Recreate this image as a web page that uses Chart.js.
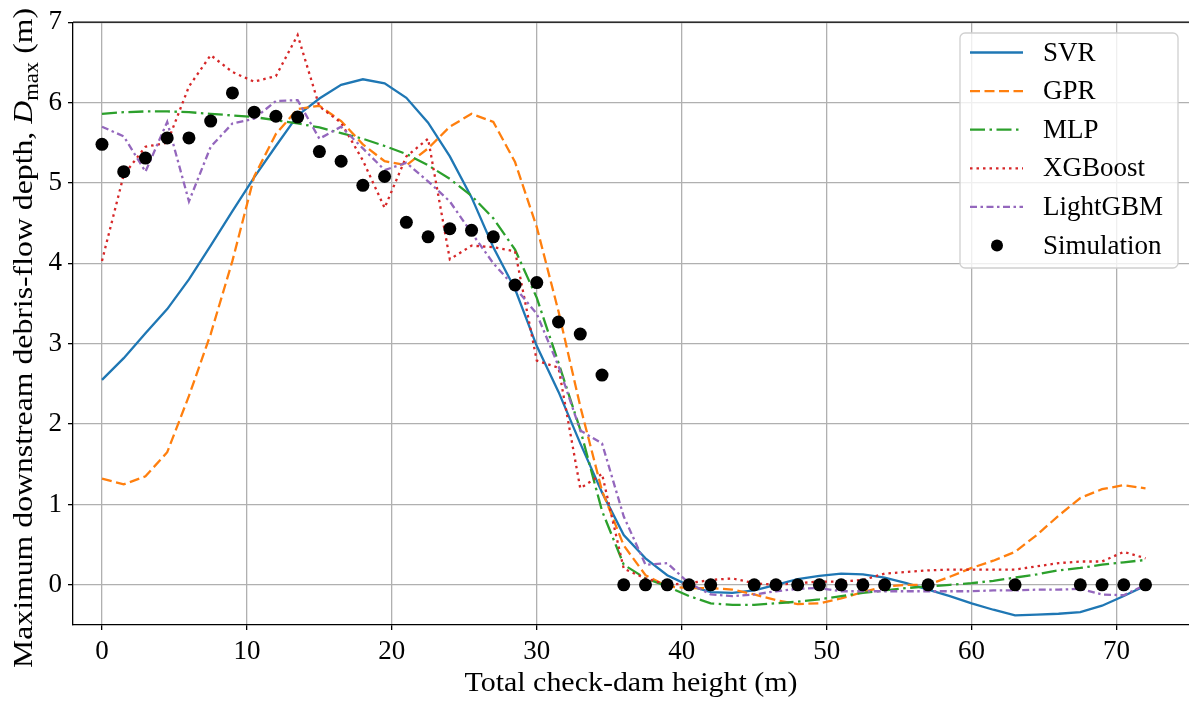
<!DOCTYPE html>
<html>
<head>
<meta charset="utf-8">
<script src="https://cdn.jsdelivr.net/npm/chart.js@4.4.1/dist/chart.umd.min.js"></script>
<style>
	html, body { margin: 0; padding: 0; background: #fff; }
	#wrap { width: 1189px; height: 703px; }
</style>
</head>
<body>
<div id="wrap"><canvas id="depthChart" width="1189" height="703"></canvas></div>
<script>
// check-dam heights where the models were evaluated (m)
const heights = [0, 1.5, 3, 4.5, 6, 7.5, 9, 10.5, 12, 13.5, 15, 16.5, 18, 19.5, 21, 22.5, 24, 25.5,
	27, 28.5, 30, 31.5, 33, 34.5, 36, 37.5, 39, 40.5, 42, 43.5, 45, 46.5, 48, 49.5, 51, 52.5, 54,
	55.5, 57, 58.5, 60, 61.5, 63, 64.5, 66, 67.5, 69, 70.5, 72];

// model predictions of D_max (m)
const svr = [2.55, 2.82, 3.13, 3.43, 3.80, 4.22, 4.65, 5.07, 5.46, 5.84, 6.05, 6.22, 6.29, 6.24,
	6.06, 5.75, 5.33, 4.82, 4.20, 3.68, 2.97, 2.40, 1.76, 1.15, 0.62, 0.33, 0.12, -0.01, -0.09, -0.10,
	-0.07, 0.00, 0.07, 0.11, 0.14, 0.13, 0.09, 0.02, -0.06, -0.14, -0.23, -0.31, -0.38, -0.37, -0.36,
	-0.34, -0.26, -0.14, -0.01];
const gpr = [1.32, 1.25, 1.35, 1.65, 2.35, 3.12, 4.03, 5.08, 5.61, 5.92, 5.96, 5.77, 5.48, 5.27,
	5.22, 5.43, 5.70, 5.86, 5.76, 5.26, 4.45, 3.40, 2.22, 1.17, 0.49, 0.12, -0.02, -0.04, -0.04, -0.06,
	-0.12, -0.19, -0.24, -0.23, -0.17, -0.09, -0.02, 0.00, 0.00, 0.10, 0.21, 0.30, 0.41, 0.62, 0.86,
	1.08, 1.19, 1.24, 1.20];
const mlp = [5.86, 5.88, 5.89, 5.89, 5.88, 5.86, 5.84, 5.82, 5.78, 5.74, 5.69, 5.62, 5.55, 5.46,
	5.36, 5.22, 5.05, 4.84, 4.56, 4.17, 3.57, 2.76, 1.93, 0.92, 0.25, 0.08, -0.02, -0.14, -0.23, -0.25,
	-0.25, -0.23, -0.21, -0.18, -0.14, -0.10, -0.07, -0.04, -0.02, 0.00, 0.02, 0.05, 0.09, 0.13, 0.18,
	0.21, 0.25, 0.28, 0.31];
const xgboost = [4.03, 5.10, 5.45, 5.50, 6.20, 6.59, 6.38, 6.26, 6.33, 6.84, 5.95, 5.75, 5.28, 4.69,
	5.33, 5.55, 4.05, 4.22, 4.20, 4.15, 2.79, 2.70, 1.20, 1.38, 0.20, 0.08, 0.00, 0.02, 0.06, 0.08,
	0.02, 0.00, 0.02, 0.04, 0.04, 0.06, 0.14, 0.16, 0.18, 0.19, 0.19, 0.19, 0.19, 0.23, 0.27, 0.29,
	0.29, 0.41, 0.33];
const lightgbm = [5.70, 5.58, 5.14, 5.76, 4.77, 5.45, 5.74, 5.80, 6.02, 6.03, 5.55, 5.70, 5.43, 5.16,
	5.25, 5.02, 4.77, 4.38, 4.00, 3.70, 3.37, 2.72, 1.92, 1.76, 0.85, 0.25, 0.27, 0.02, -0.12, -0.14,
	-0.12, -0.08, -0.05, -0.04, -0.08, -0.08, -0.08, -0.08, -0.08, -0.08, -0.08, -0.07, -0.07, -0.06,
	-0.06, -0.05, -0.12, -0.13, 0.00];

// simulation results
const simHeights = [0, 1.5, 3, 4.5, 6, 7.5, 9, 10.5, 12, 13.5, 15, 16.5, 18, 19.5, 21, 22.5, 24, 25.5,
	27, 28.5, 30, 31.5, 33, 34.5, 36, 37.5, 39, 40.5, 42, 45, 46.5, 48, 49.5, 51, 52.5, 54, 57, 63,
	67.5, 69, 70.5, 72];
const simDepth = [5.48, 5.14, 5.31, 5.56, 5.56, 5.77, 6.12, 5.88, 5.83, 5.82, 5.39, 5.27, 4.97, 5.08,
	4.51, 4.33, 4.43, 4.41, 4.33, 3.73, 3.76, 3.27, 3.12, 2.61, 0, 0, 0, 0, 0, 0, 0, 0, 0, 0, 0, 0, 0,
	0, 0, 0, 0, 0];

const FONT = "'Liberation Serif', 'DejaVu Serif', serif";
const FS = 27;

const toXY = (xs, ys) => xs.map((x, i) => ({ x: x, y: ys[i] }));

function lineSet(label, values, color, dash, order) {
	return {
		label: label,
		data: toXY(heights, values),
		borderColor: color,
		backgroundColor: color,
		borderWidth: 2.3,
		borderDash: dash,
		pointRadius: 0,
		tension: 0,
		fill: false,
		order: order,
	};
}

const datasets = [
	lineSet("SVR", svr, "#1f77b4", [], 6),
	lineSet("GPR", gpr, "#ff7f0e", [10, 4.5], 5),
	lineSet("MLP", mlp, "#2ca02c", [15, 4.5, 2.5, 4.5], 4),
	lineSet("XGBoost", xgboost, "#d62728", [2.5, 4], 3),
	lineSet("LightGBM", lightgbm, "#9467bd", [7, 3.5, 2.5, 3.5], 2),
	{
		label: "Simulation",
		data: toXY(simHeights, simDepth),
		showLine: false,
		pointRadius: 6.5,
		pointBackgroundColor: "#000",
		pointBorderColor: "#000",
		pointBorderWidth: 0,
		order: 1,
	},
];

// draws text pieces left to right, stretched sideways to a target width
function drawPieces(ctx, parts, targetW) {
	let total = 0;
	parts.forEach(p => { ctx.font = p.f; p.w = ctx.measureText(p.t).width; total += p.w; });
	ctx.scale(targetW / total, 1);
	let cx = -total / 2;
	parts.forEach(p => { ctx.font = p.f; ctx.fillText(p.t, cx, p.dy || 0); cx += p.w; });
}

// axis titles, top spine and an in-plot legend box
const decorations = {
	id: "decorations",
	afterDraw(chart) {
		const ctx = chart.ctx;
		const a = chart.chartArea;
		ctx.save();

		// top spine
		ctx.strokeStyle = "#000";
		ctx.lineWidth = 1.3;
		ctx.beginPath();
		ctx.moveTo(a.left, a.top);
		ctx.lineTo(a.right, a.top);
		ctx.stroke();

		ctx.fillStyle = "#000";
		ctx.textBaseline = "alphabetic";
		ctx.textAlign = "left";

		// x title
		ctx.translate((a.left + a.right) / 2, 691);
		drawPieces(ctx, [{ t: "Total check-dam height (m)", f: FS + "px " + FONT }], 333);
		ctx.setTransform(1, 0, 0, 1, 0, 0);

		// y title with italic D and subscript "max"
		const yf = 28;
		ctx.translate(32, 338);
		ctx.rotate(-Math.PI / 2);
		drawPieces(ctx, [
			{ t: "Maximum downstream debris-flow depth, ", f: yf + "px " + FONT },
			{ t: "D", f: "italic " + yf + "px " + FONT },
			{ t: "max", f: Math.round(yf * 0.72) + "px " + FONT, dy: 6 },
			{ t: " (m)", f: yf + "px " + FONT },
		], 660);
		ctx.setTransform(1, 0, 0, 1, 0, 0);

		// legend
		const box = { x: 960, y: 33, w: 218, h: 235 };
		ctx.fillStyle = "rgba(255,255,255,0.8)";
		ctx.strokeStyle = "#d0d0d0";
		ctx.lineWidth = 1.3;
		ctx.beginPath();
		ctx.roundRect(box.x, box.y, box.w, box.h, 5);
		ctx.fill();
		ctx.stroke();

		ctx.font = FS + "px " + FONT;
		ctx.textBaseline = "middle";
		chart.data.datasets.forEach((ds, i) => {
			const y = 52.5 + i * 38.6;
			if (ds.showLine === false) {
				ctx.fillStyle = ds.pointBackgroundColor;
				ctx.beginPath();
				ctx.arc(997, y, 6, 0, Math.PI * 2);
				ctx.fill();
			} else {
				ctx.strokeStyle = ds.borderColor;
				ctx.lineWidth = ds.borderWidth;
				ctx.setLineDash(ds.borderDash);
				ctx.beginPath();
				ctx.moveTo(970, y);
				ctx.lineTo(1023, y);
				ctx.stroke();
				ctx.setLineDash([]);
			}
			ctx.fillStyle = "#000";
			ctx.fillText(ds.label, 1043, y + 1);
		});

		ctx.restore();
	},
};

new Chart(document.getElementById("depthChart").getContext("2d"), {
	type: "line",
	data: { datasets: datasets },
	options: {
		responsive: false,
		animation: false,
		layout: { autoPadding: false, padding: { top: 19, right: 0, bottom: 0, left: 0 } },
		plugins: {
			legend: { display: false },
			tooltip: { enabled: false },
		},
		scales: {
			x: {
				type: "linear",
				min: -2,
				max: 75,
				afterFit: s => { s.height = 78; },
				ticks: {
					stepSize: 10,
					includeBounds: false,
					color: "#000",
					padding: 6,
					font: { family: FONT, size: FS },
				},
				grid: { color: "#b0b0b0", lineWidth: 1.3, tickColor: "#000", tickLength: 5 },
				border: { color: "#000", width: 1.3 },
			},
			y: {
				min: -0.5,
				max: 7,
				afterFit: s => { s.width = 73; },
				ticks: {
					stepSize: 1,
					includeBounds: false,
					color: "#000",
					padding: 6,
					font: { family: FONT, size: FS },
				},
				grid: { color: "#b0b0b0", lineWidth: 1.3, tickColor: "#000", tickLength: 5 },
				border: { color: "#000", width: 1.3 },
			},
		},
	},
	plugins: [decorations],
});
</script>
</body>
</html>
